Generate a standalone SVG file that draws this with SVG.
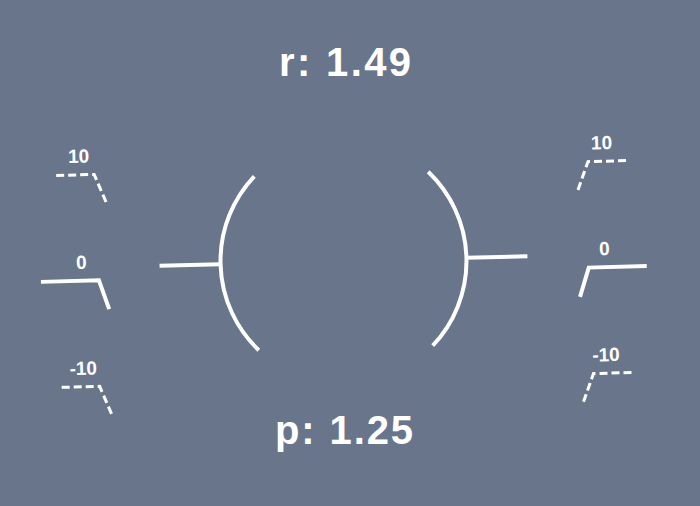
<svg xmlns="http://www.w3.org/2000/svg" width="700" height="506" viewBox="0 0 700 506">
<style>
.bg{fill:#68758a}
.ln{fill:none;stroke:#ffffff;stroke-width:4;stroke-linecap:butt;stroke-linejoin:miter}
.dash{fill:none;stroke:#ffffff;stroke-width:3;stroke-dasharray:8 4}
.big{font-family:"Liberation Sans",Arial,sans-serif;font-weight:bold;font-size:40px;fill:#ffffff;text-anchor:middle}
.lbl{font-family:"Liberation Sans",Arial,sans-serif;font-weight:bold;font-size:19px;fill:#ffffff;text-anchor:middle}
</style>
<rect class="bg" x="0" y="0" width="700" height="506"/>
<g id="roll-label"><text class="big" x="345" y="76" textLength="132" lengthAdjust="spacing">r: 1.49</text></g>
<g id="pitch-label"><text class="big" x="344" y="444" textLength="138" lengthAdjust="spacing">p: 1.25</text></g>
<g transform="translate(343.5,261) rotate(-1.49)">
  <g id="reticle">
    <path class="ln" d="M -86.97 -86.97 A 123 123 0 0 0 -86.97 86.97"/>
    <path class="ln" d="M 86.97 -86.97 A 123 123 0 0 1 86.97 86.97"/>
    <path class="ln" d="M -184 0 H -123"/>
    <path class="ln" d="M 123 0 H 184"/>
  </g>
  <g id="ladder-left">
    <polyline class="dash" points="-285,-93 -247,-93 -235,-63"/>
    <text class="lbl" x="-262" y="-105">10</text>
    <polyline class="ln" points="-303,13 -245,13 -235.5,42"/>
    <text class="lbl" x="-262" y="1">0</text>
    <polyline class="dash" points="-285,119 -247,119 -235,149"/>
    <text class="lbl" x="-263" y="107">-10</text>
  </g>
  <g id="ladder-right">
    <polyline class="dash" points="285,-93 247,-93 235.5,-63"/>
    <text class="lbl" x="261" y="-105">10</text>
    <polyline class="ln" points="303,13 245,13 235.5,42"/>
    <text class="lbl" x="261" y="1">0</text>
    <polyline class="dash" points="285,119 247,119 235.5,149"/>
    <text class="lbl" x="260" y="107">-10</text>
  </g>
</g>
</svg>
